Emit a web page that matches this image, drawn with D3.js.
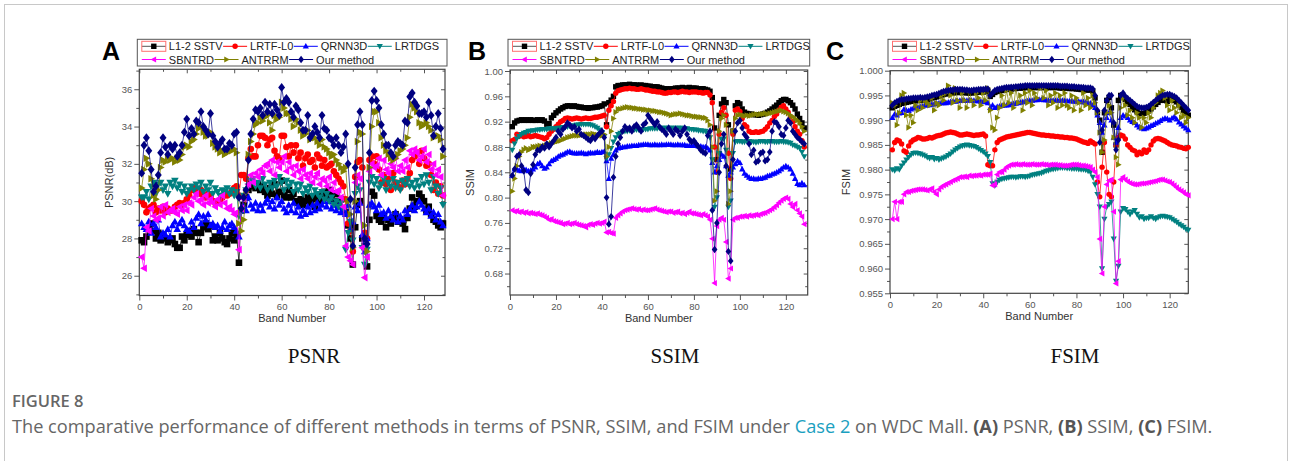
<!DOCTYPE html>
<html>
<head>
<meta charset="utf-8">
<script src="https://cdn.jsdelivr.net/npm/d3@7"></script>
<style>
  body { margin: 0; background: #fff; }
  svg { display: block; }
  .tick text { font-family: "Liberation Sans", Arial, sans-serif; fill: #555; }
  .tick line { stroke: #555; }
</style>
</head>
<body>
<svg id="fig" width="1290" height="461"></svg>
<script>
// ---- data: one value per band (1..128) ----
var methods = ["L1-2 SSTV", "LRTF-L0", "QRNN3D", "LRTDGS", "SBNTRD", "ANTRRM", "Our method"];
var bandTicks = [0, 20, 40, 60, 80, 100, 120];
var psnrTicks = [26, 28, 30, 32, 34, 36];
var ssimTicks = [0.68, 0.72, 0.76, 0.80, 0.84, 0.88, 0.92, 0.96, 1.00];
var fsimTicks = [0.955, 0.960, 0.965, 0.970, 0.975, 0.980, 0.985, 0.990, 0.995, 1.000];

var psnrSSTV = [27.9,27.8,28.1,28.5,28.8,28.4,28.0,28.3,27.9,28.2, 28.0,27.8,27.9,28.0,27.7,27.5,27.5,28.1,27.9,28.2,
  28.4,28.1,28.5,28.3,27.8,28.3,28.6,28.8,28.5,28.7, 27.9,28.1,27.9,28.3,28.0,27.8,27.7,28.0,28.3,27.9,
  28.2,26.7,29.5,29.8,30.2,30.6,31.0,30.8,30.7,30.9, 30.6,30.8,30.5,30.3,30.7,30.4,30.9,30.3,30.5,31.1,
  30.3,30.2,30.6,30.2,30.4,30.0,29.9,30.1,29.8,30.0, 30.2,29.9,30.1,29.7,30.2,30.0,30.3,30.5,30.2,30.6,
  30.3,30.0,30.4,29.8,30.1,29.6,29.4,28.7,28.0,26.6, 28.6,29.8,30.0,28.0,27.6,26.5,29.0,30.5,30.3,29.2,
  29.0,28.9,29.2,28.6,29.0,28.8,29.1,29.3,28.9,29.0, 28.8,28.5,29.1,29.6,30.2,29.7,30.0,30.4,30.2,30.0,
  29.5,29.7,29.3,29.0,28.9,28.7,28.6,28.8];
var psnrLRTF = [30.0,29.8,29.4,29.6,29.7,29.8,29.4,29.6,29.5,29.7, 29.4,29.6,29.5,29.5,29.7,29.8,29.9,29.8,29.9,30.1,
  30.3,30.6,30.7,30.5,30.4,30.6,30.3,30.2,30.4,30.2, 30.0,29.9,29.9,30.0,30.2,30.4,30.3,30.4,30.5,30.7,
  30.8,30.3,31.4,31.4,31.2,32.3,32.8,32.4,32.4,33.0, 33.5,33.5,33.4,33.0,33.3,33.4,32.7,32.4,32.3,33.5,
  33.5,32.9,32.4,33.0,32.6,33.0,32.3,32.6,31.9,32.3, 32.5,32.1,32.2,31.8,32.5,32.3,31.9,32.2,31.8,31.9,
  32.0,31.6,31.4,31.2,31.0,30.8,30.1,28.8,28.4,27.3, 31.3,32.1,32.2,31.8,28.3,28.0,32.2,32.4,32.0,32.4,
  31.7,31.0,31.4,30.9,31.2,30.6,31.5,31.0,30.8,30.7, 31.1,30.9,31.2,31.5,32.2,32.4,32.6,32.0,32.7,32.3,
  31.9,32.0,31.4,30.6,31.0,30.4,30.8,30.3];
var psnrQRNN = [28.8,28.6,28.5,28.9,28.3,28.8,28.6,29.0,28.1,28.3, 28.2,28.5,28.1,28.7,28.9,28.5,28.8,29.0,28.7,28.5,
  28.4,28.9,28.6,29.1,29.3,28.8,29.2,29.0,29.3,28.7, 28.8,28.6,28.7,28.4,28.6,28.9,28.5,28.7,28.8,28.6,
  28.4,28.1,29.5,29.7,29.5,30.2,29.8,29.6,29.9,29.5, 29.8,29.5,29.9,30.1,29.7,30.0,29.6,30.2,29.8,30.0,
  29.6,29.4,29.8,29.5,29.9,29.4,29.7,29.2,29.5,29.3, 29.7,29.4,29.8,29.5,29.9,29.6,29.8,30.0,29.7,30.0,
  29.6,29.8,29.5,29.7,29.4,29.6,29.3,29.8,28.5,28.9, 29.7,29.5,29.9,28.2,27.3,28.0,29.8,29.9,29.7,29.5,
  29.8,29.3,29.4,29.1,29.5,29.2,29.0,29.4,28.9,29.2, 29.0,29.5,29.3,29.6,29.8,29.5,29.7,30.0,29.8,29.6,
  29.4,29.6,29.2,29.4,29.0,29.3,28.9,28.7];
var psnrLRTDGS = [30.2,30.2,30.5,30.1,30.8,31.0,30.4,30.9,31.0,30.6, 30.8,30.4,31.0,30.8,31.1,30.7,30.9,30.5,30.8,30.4,
  30.6,30.8,30.6,30.9,30.7,31.0,30.5,30.8,30.6,31.0, 30.4,30.7,30.5,30.3,30.6,30.5,30.7,30.4,30.6,30.3,
  30.5,29.2,29.5,30.3,30.6,30.8,31.1,31.2,30.8,31.0, 30.7,31.2,30.9,30.6,31.0,30.7,31.1,30.8,31.3,31.0,
  30.6,31.1,30.8,31.0,30.5,30.9,30.6,30.9,30.4,30.7, 30.5,30.8,30.3,30.6,30.4,30.2,30.5,30.1,30.4,30.0,
  30.2,29.8,30.0,29.7,29.9,29.6,27.4,28.3,28.9,27.9, 30.4,30.8,30.6,27.5,26.6,27.4,31.0,31.3,30.9,31.2,
  30.7,30.9,31.2,30.6,31.0,30.8,31.2,30.7,31.0,30.6, 31.1,30.9,31.2,30.8,31.0,30.7,31.1,30.8,31.3,30.9,
  31.4,31.0,30.6,31.3,30.8,30.4,30.7,29.8];
var psnrSBNTRD = [27.0,26.4,28.6,28.4,29.6,29.2,29.0,29.1,29.7,29.2, 29.8,29.4,29.5,29.6,29.4,29.3,29.7,29.5,29.8,29.5,
  29.9,29.8,30.2,30.4,30.0,30.1,29.8,30.3,29.9,30.1, 29.9,29.7,30.1,29.8,30.3,29.9,29.6,29.7,29.5,29.3,
  29.4,27.4,29.6,30.1,30.6,30.9,31.4,31.0,31.5,31.3, 31.7,31.5,31.9,32.0,31.6,32.2,31.4,32.1,31.8,32.1,
  32.4,31.6,32.1,31.8,31.4,31.9,31.6,31.2,31.7,31.4, 31.2,31.5,31.0,31.3,31.5,30.9,31.2,31.1,30.8,31.3,
  30.6,31.0,30.5,30.6,30.2,29.7,27.6,27.0,26.8,26.6, 31.0,31.4,31.2,27.5,25.9,27.0,31.6,32.0,31.8,31.9,
  32.3,31.4,32.2,31.7,31.5,32.0,31.8,32.4,31.6,31.9, 31.6,32.2,31.8,32.7,32.5,32.8,32.6,32.2,32.4,32.8,
  32.1,32.5,31.7,32.0,31.4,31.7,31.3,30.3];
var psnrANTRRM = [30.7,31.7,32.3,32.0,31.2,30.3,30.1,30.6,31.8,32.2, 32.1,32.3,32.2,32.3,32.1,32.3,32.2,32.5,32.9,33.0,
  32.9,33.2,33.3,33.6,33.9,34.0,33.7,33.5,33.5,33.7, 33.1,32.9,32.8,32.6,32.7,32.5,32.6,32.7,32.7,32.8,
  32.6,28.8,28.4,29.0,30.5,32.5,33.2,33.6,34.1,34.2, 34.5,34.3,34.5,34.6,34.2,33.8,34.6,34.4,34.5,35.3,
  35.0,34.7,34.7,34.4,34.0,34.4,34.2,33.8,33.5,33.6, 33.8,33.3,33.4,33.4,33.2,33.0,33.3,32.9,32.8,32.6,
  32.4,32.5,32.2,32.0,31.8,31.6,31.8,30.0,29.3,27.5, 30.0,33.2,33.7,33.6,28.7,27.3,31.8,34.0,34.8,34.8,
  34.2,33.4,33.0,32.7,32.5,32.3,32.2,32.3,32.5,32.7, 32.8,33.0,33.4,34.5,35.2,35.0,34.8,34.2,34.0,34.1,
  34.2,34.0,33.8,33.4,33.5,33.5,33.3,32.4];
var psnrOurs = [31.5,33.0,33.4,32.7,31.7,30.5,30.8,31.4,32.6,33.4, 32.9,32.5,33.0,32.8,33.0,32.4,32.6,33.0,33.7,34.4,
  33.5,33.9,33.6,34.3,34.2,34.8,34.0,33.8,33.6,34.7, 33.5,33.2,32.9,33.1,33.3,32.8,32.8,33.1,33.0,33.6,
  33.7,30.2,29.6,30.2,30.6,32.2,33.6,34.4,34.9,34.8, 35.0,34.6,35.3,34.8,35.2,34.7,35.2,34.9,34.6,36.1,
  35.3,35.5,35.3,34.8,34.5,35.1,34.9,34.2,33.8,33.8, 34.6,33.4,33.6,34.0,33.7,33.4,34.6,33.9,33.8,33.4,
  33.3,33.0,33.4,33.0,32.6,32.9,33.6,32.0,30.1,27.6, 31.8,34.1,34.8,34.1,28.0,27.7,32.6,35.4,35.9,35.4,
  35.0,34.1,33.6,33.0,33.0,32.6,32.4,33.0,33.2,33.1, 33.0,34.3,34.2,35.6,35.8,35.3,35.1,34.7,34.7,34.8,
  34.5,35.3,34.6,33.5,34.0,34.7,33.9,32.8];

var ssimSSTV = [.912,.918,.921,.922,.923,.922,.923,.922,.923,.922, .922,.923,.922,.923,.921,.916,.917,.926,.930,.934,
  .937,.940,.942,.944,.945,.945,.944,.945,.944,.943, .943,.942,.942,.941,.942,.942,.943,.943,.944,.945,
  .948,.915,.950,.954,.960,.975,.977,.977,.978,.978, .978,.979,.978,.978,.978,.977,.978,.977,.977,.976,
  .976,.975,.975,.975,.974,.973,.972,.972,.971,.972, .972,.973,.973,.973,.974,.973,.973,.974,.973,.973,
  .973,.972,.972,.972,.971,.970,.968,.958,.910,.860, .930,.948,.955,.950,.915,.845,.905,.945,.950,.948,
  .940,.935,.933,.932,.932,.931,.931,.930,.931,.932, .933,.935,.937,.940,.943,.946,.950,.953,.955,.955,
  .953,.950,.946,.940,.932,.925,.918,.910];
var ssimLRTF = [.890,.892,.900,.897,.898,.896,.897,.898,.896,.897, .898,.897,.896,.895,.893,.895,.900,.905,.908,.912,
  .916,.920,.922,.925,.926,.925,.924,.925,.926,.925, .924,.925,.926,.925,.925,.926,.927,.927,.928,.929,
  .930,.912,.938,.945,.952,.965,.969,.970,.971,.972, .972,.973,.972,.972,.971,.971,.972,.971,.970,.970,
  .969,.968,.968,.967,.967,.966,.965,.965,.966,.966, .967,.967,.966,.967,.968,.967,.967,.966,.967,.967,
  .967,.966,.966,.965,.966,.966,.962,.950,.880,.840, .900,.935,.942,.930,.870,.830,.900,.938,.940,.936,
  .925,.915,.912,.905,.903,.903,.904,.903,.904,.905, .908,.912,.918,.922,.928,.932,.938,.943,.945,.940,
  .935,.928,.920,.912,.905,.900,.890,.880];
var ssimQRNN = [.835,.845,.845,.843,.842,.845,.844,.842,.843,.845, .848,.853,.855,.850,.846,.848,.853,.858,.860,.862,
  .865,.867,.868,.870,.872,.873,.871,.870,.870,.870, .871,.870,.869,.870,.871,.870,.871,.872,.871,.872,
  .873,.858,.830,.862,.868,.875,.878,.879,.880,.880, .881,.881,.882,.882,.882,.883,.883,.884,.884,.884,
  .883,.883,.884,.883,.883,.884,.883,.884,.884,.884, .883,.883,.884,.883,.883,.883,.882,.882,.882,.882,
  .882,.881,.881,.880,.880,.878,.875,.855,.840,.850, .860,.868,.865,.850,.835,.840,.848,.853,.858,.855,
  .845,.838,.835,.832,.830,.830,.829,.830,.830,.831, .832,.834,.835,.837,.838,.840,.842,.845,.848,.850,
  .848,.845,.838,.830,.822,.820,.823,.820];
var ssimLRTDGS = [.875,.885,.893,.897,.900,.902,.903,.905,.905,.906, .906,.907,.907,.908,.908,.908,.909,.909,.909,.909,
  .910,.910,.911,.911,.912,.913,.913,.914,.915,.915, .916,.916,.916,.916,.915,.914,.912,.910,.907,.903,
  .897,.862,.868,.878,.888,.895,.900,.902,.904,.905, .905,.906,.906,.907,.907,.907,.908,.908,.908,.908,
  .909,.909,.909,.909,.910,.910,.910,.910,.910,.910, .910,.910,.910,.910,.910,.909,.909,.908,.908,.907,
  .907,.906,.906,.905,.905,.902,.895,.860,.785,.800, .870,.892,.893,.875,.785,.795,.870,.888,.889,.889,
  .888,.888,.889,.889,.888,.888,.887,.888,.889,.889, .888,.888,.889,.889,.888,.888,.888,.889,.888,.888,
  .887,.886,.883,.882,.880,.878,.872,.865];
var ssimSBNTRD = [.780,.778,.779,.777,.778,.776,.777,.775,.776,.775, .774,.775,.773,.772,.770,.768,.765,.766,.763,.762,
  .761,.760,.758,.759,.760,.758,.759,.760,.758,.757, .756,.755,.753,.757,.758,.757,.759,.760,.759,.760,
  .762,.745,.746,.744,.743,.768,.772,.775,.778,.780, .781,.782,.783,.782,.781,.782,.780,.781,.780,.780,
  .781,.782,.783,.781,.780,.779,.778,.777,.778,.778, .776,.777,.778,.775,.776,.774,.776,.778,.775,.775,
  .774,.773,.772,.774,.772,.770,.765,.735,.665,.755, .765,.768,.765,.730,.672,.688,.765,.768,.768,.770,
  .770,.771,.770,.772,.771,.772,.773,.772,.774,.775, .776,.778,.780,.782,.785,.788,.792,.795,.798,.800,
  .798,.790,.785,.790,.780,.775,.770,.758];
var ssimANTRRM = [.810,.830,.850,.865,.872,.876,.878,.875,.877,.880, .880,.881,.882,.881,.882,.883,.885,.886,.887,.888,
  .889,.890,.892,.893,.895,.896,.897,.898,.898,.898, .899,.899,.900,.900,.900,.901,.900,.899,.898,.898,
  .900,.865,.880,.905,.925,.935,.940,.940,.941,.942, .943,.942,.942,.941,.941,.940,.940,.939,.939,.938,
  .938,.937,.937,.936,.935,.935,.934,.933,.932,.930, .931,.932,.932,.933,.932,.931,.930,.930,.929,.928,
  .928,.927,.927,.926,.926,.922,.915,.880,.795,.810, .905,.925,.930,.915,.790,.810,.905,.925,.930,.931,
  .930,.929,.930,.929,.930,.931,.932,.931,.932,.932, .933,.932,.933,.934,.935,.936,.937,.938,.936,.935,
  .933,.930,.928,.925,.922,.918,.912,.905];
var ssimOurs = [.835,.845,.865,.868,.850,.842,.812,.808,.838,.852, .868,.875,.875,.880,.878,.885,.880,.885,.890,.895,
  .905,.900,.908,.912,.918,.915,.910,.912,.905,.908, .900,.898,.895,.892,.890,.895,.893,.898,.902,.905,
  .895,.800,.758,.770,.832,.865,.885,.895,.905,.912, .908,.910,.905,.912,.915,.910,.905,.915,.918,.930,
  .925,.920,.915,.920,.912,.908,.905,.900,.910,.905, .900,.908,.905,.898,.905,.910,.900,.892,.888,.890,
  .885,.880,.875,.872,.870,.898,.905,.780,.718,.760, .840,.885,.900,.850,.715,.700,.860,.905,.918,.922,
  .910,.900,.895,.885,.868,.875,.856,.858,.870,.872, .858,.860,.872,.905,.920,.918,.912,.900,.898,.910,
  .922,.918,.905,.900,.895,.892,.888,.885];

var fsimSSTV = [.9925,.9928,.9930,.9932,.9934,.9935,.9936,.9937,.9938,.9939, .9939,.9940,.9940,.9940,.9941,.9942,.9943,.9945,.9946,.9947,
  .9949,.9951,.9952,.9953,.9954,.9955,.9955,.9956,.9956,.9956, .9956,.9956,.9955,.9955,.9955,.9956,.9956,.9957,.9957,.9957,
  .9958,.9958,.9948,.9952,.9956,.9958,.9959,.9960,.9961,.9962, .9963,.9963,.9964,.9964,.9965,.9965,.9965,.9966,.9966,.9966,
  .9966,.9966,.9966,.9966,.9966,.9966,.9966,.9966,.9966,.9966, .9966,.9966,.9965,.9965,.9965,.9965,.9964,.9964,.9964,.9963,
  .9963,.9962,.9962,.9961,.9961,.9961,.9959,.9945,.9915,.9900, .9835,.9915,.9940,.9946,.9925,.9890,.9850,.9940,.9950,.9947,
  .9942,.9937,.9932,.9926,.9921,.9917,.9914,.9913,.9914,.9916, .9919,.9923,.9927,.9932,.9936,.9940,.9943,.9940,.9938,.9944,
  .9942,.9940,.9937,.9932,.9926,.9920,.9915,.9910];
var fsimLRTF = [.9840,.9855,.9860,.9858,.9852,.9838,.9835,.9848,.9856,.9860, .9862,.9865,.9864,.9862,.9862,.9863,.9865,.9864,.9866,.9868,
  .9869,.9870,.9872,.9874,.9875,.9876,.9875,.9874,.9872,.9870, .9870,.9871,.9872,.9871,.9870,.9869,.9870,.9870,.9871,.9872,
  .9868,.9810,.9808,.9808,.9840,.9855,.9860,.9862,.9864,.9866, .9867,.9868,.9869,.9870,.9871,.9872,.9873,.9874,.9875,.9875,
  .9874,.9873,.9872,.9871,.9870,.9870,.9869,.9869,.9868,.9868, .9867,.9867,.9866,.9866,.9865,.9865,.9864,.9864,.9863,.9862,
  .9860,.9858,.9856,.9855,.9853,.9858,.9855,.9852,.9775,.9745, .9805,.9855,.9795,.9750,.9745,.9775,.9850,.9865,.9870,.9868,
  .9862,.9850,.9845,.9840,.9838,.9830,.9835,.9832,.9840,.9835, .9840,.9850,.9858,.9862,.9863,.9862,.9860,.9858,.9855,.9852,
  .9850,.9849,.9848,.9846,.9845,.9843,.9842,.9845];
var fsimQRNN = [.9905,.9912,.9910,.9914,.9915,.9922,.9920,.9919,.9922,.9924, .9925,.9926,.9927,.9928,.9930,.9930,.9931,.9932,.9933,.9934,
  .9934,.9935,.9935,.9935,.9936,.9937,.9938,.9938,.9939,.9940, .9940,.9940,.9940,.9941,.9940,.9940,.9939,.9939,.9938,.9938,
  .9937,.9935,.9925,.9930,.9925,.9927,.9928,.9929,.9930,.9930, .9931,.9932,.9933,.9934,.9935,.9936,.9937,.9938,.9939,.9940,
  .9940,.9941,.9941,.9942,.9942,.9941,.9941,.9940,.9940,.9940, .9940,.9940,.9940,.9940,.9940,.9939,.9939,.9939,.9938,.9938,
  .9938,.9937,.9937,.9936,.9935,.9934,.9930,.9925,.9910,.9895, .9875,.9890,.9905,.9915,.9900,.9865,.9855,.9885,.9905,.9910,
  .9908,.9905,.9900,.9897,.9895,.9890,.9886,.9884,.9882,.9884, .9886,.9889,.9891,.9894,.9896,.9899,.9902,.9904,.9903,.9900,
  .9904,.9907,.9902,.9896,.9892,.9888,.9884,.9880];
var fsimLRTDGS = [.9800,.9798,.9802,.9800,.9808,.9814,.9820,.9825,.9830,.9833, .9834,.9833,.9832,.9830,.9828,.9825,.9823,.9825,.9821,.9823,
  .9820,.9822,.9824,.9826,.9829,.9832,.9836,.9840,.9843,.9846, .9848,.9849,.9850,.9849,.9848,.9847,.9845,.9842,.9839,.9836,
  .9832,.9827,.9815,.9772,.9768,.9775,.9779,.9781,.9782,.9783, .9784,.9785,.9785,.9784,.9785,.9786,.9786,.9785,.9786,.9787,
  .9789,.9790,.9791,.9792,.9793,.9795,.9797,.9798,.9800,.9801, .9802,.9803,.9804,.9804,.9804,.9803,.9803,.9802,.9802,.9802,
  .9801,.9800,.9800,.9799,.9797,.9795,.9785,.9770,.9750,.9725, .9600,.9700,.9725,.9730,.9735,.9660,.9575,.9605,.9715,.9722,
  .9720,.9715,.9710,.9715,.9718,.9710,.9703,.9705,.9700,.9702, .9702,.9705,.9702,.9700,.9703,.9705,.9706,.9705,.9704,.9703,
  .9700,.9697,.9694,.9690,.9687,.9684,.9680,.9678];
var fsimSBNTRD = [.9700,.9735,.9700,.9735,.9735,.9750,.9755,.9755,.9757,.9758, .9759,.9760,.9760,.9760,.9759,.9758,.9760,.9762,.9755,.9750,
  .9760,.9765,.9768,.9770,.9773,.9775,.9778,.9780,.9782,.9785, .9785,.9786,.9785,.9788,.9787,.9788,.9788,.9789,.9788,.9790,
  .9790,.9790,.9792,.9768,.9770,.9790,.9795,.9795,.9800,.9805, .9808,.9810,.9810,.9811,.9810,.9810,.9811,.9810,.9810,.9810,
  .9811,.9810,.9810,.9810,.9811,.9810,.9810,.9809,.9810,.9810, .9810,.9809,.9809,.9808,.9808,.9808,.9809,.9810,.9810,.9810,
  .9809,.9808,.9808,.9807,.9806,.9805,.9800,.9795,.9785,.9660, .9590,.9725,.9770,.9778,.9780,.9715,.9570,.9615,.9780,.9785,
  .9780,.9776,.9773,.9771,.9770,.9770,.9771,.9772,.9772,.9773, .9774,.9775,.9776,.9777,.9779,.9780,.9780,.9778,.9776,.9775,
  .9772,.9768,.9764,.9760,.9757,.9754,.9750,.9748];
var fsimANTRRM = [.9935,.9930,.9890,.9915,.9950,.9955,.9910,.9885,.9910,.9895, .9930,.9920,.9940,.9925,.9940,.9935,.9930,.9945,.9920,.9935,
  .9930,.9950,.9940,.9955,.9970,.9950,.9935,.9965,.9940,.9925, .9955,.9940,.9925,.9960,.9940,.9930,.9955,.9945,.9930,.9955,
  .9940,.9965,.9920,.9885,.9880,.9905,.9925,.9950,.9930,.9960, .9935,.9955,.9925,.9965,.9935,.9950,.9920,.9955,.9935,.9960,
  .9930,.9955,.9945,.9970,.9965,.9945,.9960,.9930,.9950,.9935, .9955,.9925,.9950,.9930,.9955,.9930,.9925,.9950,.9920,.9945,
  .9935,.9920,.9955,.9930,.9945,.9925,.9950,.9935,.9915,.9875, .9835,.9860,.9915,.9930,.9915,.9865,.9825,.9810,.9925,.9945,
  .9930,.9910,.9920,.9905,.9895,.9915,.9905,.9885,.9905,.9895, .9915,.9905,.9925,.9935,.9950,.9955,.9960,.9945,.9930,.9920,
  .9940,.9925,.9915,.9930,.9905,.9910,.9895,.9905];
var fsimOurs = [.9930,.9935,.9938,.9940,.9942,.9942,.9943,.9944,.9944,.9945, .9945,.9945,.9946,.9945,.9946,.9947,.9948,.9950,.9951,.9952,
  .9954,.9956,.9958,.9959,.9960,.9961,.9961,.9962,.9962,.9962, .9962,.9961,.9961,.9960,.9960,.9961,.9961,.9962,.9962,.9962,
  .9963,.9963,.9950,.9955,.9960,.9962,.9963,.9964,.9965,.9966, .9966,.9967,.9967,.9968,.9968,.9969,.9969,.9970,.9970,.9970,
  .9970,.9970,.9970,.9970,.9970,.9970,.9970,.9970,.9970,.9970, .9970,.9970,.9969,.9969,.9969,.9969,.9968,.9968,.9968,.9967,
  .9967,.9966,.9966,.9965,.9965,.9965,.9963,.9950,.9920,.9855, .9880,.9920,.9940,.9950,.9950,.9895,.9840,.9860,.9950,.9955,
  .9948,.9944,.9940,.9936,.9932,.9928,.9926,.9925,.9925,.9926, .9928,.9932,.9936,.9940,.9944,.9947,.9950,.9951,.9952,.9952,
  .9950,.9948,.9945,.9940,.9935,.9930,.9925,.9920];

var colors = ["#000000", "#ff0000", "#0000ff", "#008080", "#ff00ff", "#808000", "#000080"];
var shapes = ["square", "circle", "up", "down", "left", "right", "diamond"];

var panels = [
  { letter: "A", yTitle: "PSNR(dB)", name: "PSNR", series: [psnrSSTV, psnrLRTF, psnrQRNN, psnrLRTDGS, psnrSBNTRD, psnrANTRRM, psnrOurs],
    left: 139.3, right: 445, top: 69.3, bottom: 295.5, xMax: 128.85, yDom: [24.94, 37.07], yTicks: psnrTicks,
    fmt: d3.format("d"), r: 3.3, letterX: 102, nameX: 314, titleGap: 26 },
  { letter: "B", yTitle: "SSIM", name: "SSIM", series: [ssimSSTV, ssimLRTF, ssimQRNN, ssimLRTDGS, ssimSBNTRD, ssimANTRRM, ssimOurs],
    left: 510, right: 807.7, top: 70, bottom: 295, xMax: 129.5, yDom: [0.6461, 1.0016], yTicks: ssimTicks,
    fmt: d3.format(".2f"), r: 2.7, letterX: 468, nameX: 675, titleGap: 36 },
  { letter: "C", yTitle: "FSIM", name: "FSIM", series: [fsimSSTV, fsimLRTF, fsimQRNN, fsimLRTDGS, fsimSBNTRD, fsimANTRRM, fsimOurs],
    left: 890, right: 1188.3, top: 70.7, bottom: 293.3, xMax: 128, yDom: [0.955, 1.0], yTicks: fsimTicks,
    fmt: d3.format(".3f"), r: 2.7, letterX: 826, nameX: 1075, titleGap: 40 }
];

var font = '"Liberation Sans", Arial, sans-serif';
var svg = d3.select("#fig");

svg.append("rect").attr("width", 1290).attr("height", 461).attr("fill", "#fff");
svg.append("rect").attr("x", 4.5).attr("y", 4.5).attr("width", 1283).attr("height", 480)
  .attr("fill", "none").attr("stroke", "#c8c8c8").attr("stroke-width", 1);

function markerPath(type, r) {
  switch (type) {
    case "square": return "M" + (-r) + "," + (-r) + "h" + 2 * r + "v" + 2 * r + "h" + (-2 * r) + "Z";
    case "circle": return "M" + r + ",0A" + r + "," + r + " 0 1,1 " + (-r) + ",0A" + r + "," + r + " 0 1,1 " + r + ",0Z";
    case "up": return "M0," + (-1.2 * r) + "L" + 1.15 * r + "," + 0.85 * r + "L" + (-1.15 * r) + "," + 0.85 * r + "Z";
    case "down": return "M0," + 1.2 * r + "L" + 1.15 * r + "," + (-0.85 * r) + "L" + (-1.15 * r) + "," + (-0.85 * r) + "Z";
    case "left": return "M" + (-1.2 * r) + ",0L" + 0.85 * r + "," + (-1.15 * r) + "L" + 0.85 * r + "," + 1.15 * r + "Z";
    case "right": return "M" + 1.2 * r + ",0L" + (-0.85 * r) + "," + (-1.15 * r) + "L" + (-0.85 * r) + "," + 1.15 * r + "Z";
    default: return "M0," + (-1.35 * r) + "L" + 1.05 * r + ",0L0," + 1.35 * r + "L" + (-1.05 * r) + ",0Z";
  }
}

function midpoints(t) {
  var m = [];
  for (var i = 0; i < t.length - 1; i++) m.push((t[i] + t[i + 1]) / 2);
  m.push(t[t.length - 1] + (t[1] - t[0]) / 2);
  m.unshift(t[0] - (t[1] - t[0]) / 2);
  return m;
}

panels.forEach(function(p) {
  var x = d3.scaleLinear().domain([0, p.xMax]).range([p.left, p.right]);
  var y = d3.scaleLinear().domain(p.yDom).range([p.bottom, p.top]);
  var g = svg.append("g");
  var inX = function(v) { return v >= 0 && v <= p.xMax; };
  var inY = function(v) { return v >= p.yDom[0] && v <= p.yDom[1]; };
  var xMinor = midpoints(bandTicks).filter(inX);
  var yMinor = midpoints(p.yTicks).filter(inY);

  // axes
  function clean(sel) { sel.select(".domain").remove(); }
  g.append("g").attr("transform", "translate(0," + p.bottom + ")")
    .call(d3.axisBottom(x).tickValues(bandTicks).tickSize(5).tickPadding(3).tickFormat(d3.format("d"))).call(clean)
    .selectAll("text").style("font-size", "9.5px");
  g.append("g").attr("transform", "translate(0," + p.bottom + ")")
    .call(d3.axisBottom(x).tickValues(xMinor).tickSize(3).tickFormat("")).call(clean);
  g.append("g").attr("transform", "translate(0," + p.top + ")")
    .call(d3.axisBottom(x).tickValues(bandTicks).tickSize(4).tickFormat("")).call(clean);
  g.append("g").attr("transform", "translate(0," + p.top + ")")
    .call(d3.axisBottom(x).tickValues(xMinor).tickSize(2.5).tickFormat("")).call(clean);
  g.append("g").attr("transform", "translate(" + p.left + ",0)")
    .call(d3.axisLeft(y).tickValues(p.yTicks).tickSize(5).tickPadding(2).tickFormat(p.fmt)).call(clean)
    .selectAll("text").style("font-size", "9.5px");
  g.append("g").attr("transform", "translate(" + p.left + ",0)")
    .call(d3.axisLeft(y).tickValues(yMinor).tickSize(3).tickFormat("")).call(clean);
  g.append("g").attr("transform", "translate(" + p.right + ",0)")
    .call(d3.axisLeft(y).tickValues(p.yTicks).tickSize(4).tickFormat("")).call(clean);
  g.append("g").attr("transform", "translate(" + p.right + ",0)")
    .call(d3.axisLeft(y).tickValues(yMinor).tickSize(2.5).tickFormat("")).call(clean);

  g.append("rect").attr("x", p.left).attr("y", p.top)
    .attr("width", p.right - p.left).attr("height", p.bottom - p.top)
    .attr("fill", "none").attr("stroke", "#444").attr("stroke-width", 1.2);

  // series
  var line = d3.line().x(function(d, i) { return x(i + 1); }).y(function(d) { return y(d); });
  p.series.forEach(function(vals, k) {
    var sg = g.append("g");
    sg.append("path").datum(vals).attr("d", line)
      .attr("fill", "none").attr("stroke", colors[k]).attr("stroke-width", 1).attr("stroke-opacity", 0.75);
    sg.selectAll("path.m").data(vals).enter().append("path").attr("class", "m")
      .attr("transform", function(d, i) { return "translate(" + x(i + 1) + "," + y(d) + ")"; })
      .attr("d", markerPath(shapes[k], p.r))
      .attr("fill", colors[k]);
  });

  // axis titles
  g.append("text").attr("transform", "translate(" + (p.left - p.titleGap) + "," + ((p.top + p.bottom) / 2) + ") rotate(-90)")
    .attr("text-anchor", "middle").attr("font-family", font).attr("font-size", 11).attr("fill", "#333")
    .text(p.yTitle);
  g.append("text").attr("x", (p.left + p.right) / 2).attr("y", p.bottom + 26.5)
    .attr("text-anchor", "middle").attr("font-family", font).attr("font-size", 11).attr("fill", "#333")
    .text("Band Number");

  // panel letter
  g.append("text").attr("x", p.letterX).attr("y", 60).attr("font-family", font)
    .attr("font-size", 25).attr("font-weight", "bold").attr("fill", "#000").text(p.letter);

  // legend
  var bx = p.left - 2, bw = p.right - p.left + 4;
  var lg = g.append("g");
  lg.append("rect").attr("x", bx).attr("y", 39.3).attr("width", bw).attr("height", 26.7)
    .attr("fill", "#fff").attr("stroke", "#555").attr("stroke-width", 1);
  var rows = [[0, 1, 2, 3], [4, 5, 6]];
  rows.forEach(function(row, ri) {
    var cy = ri === 0 ? 46.3 : 59.5;
    var cx = bx + 4.5;
    row.forEach(function(k) {
      lg.append("line").attr("x1", cx).attr("x2", cx + 24).attr("y1", cy).attr("y2", cy)
        .attr("stroke", k === 0 ? "#555" : colors[k]).attr("stroke-width", 1);
      lg.append("path").attr("transform", "translate(" + (cx + 12) + "," + cy + ")")
        .attr("d", markerPath(shapes[k], 2.7)).attr("fill", colors[k]);
      if (k === 0) {
        lg.append("rect").attr("x", cx).attr("y", cy - 5).attr("width", 24).attr("height", 10)
          .attr("fill", "none").attr("stroke", "#ff7070").attr("stroke-width", 1);
      }
      var t = lg.append("text").attr("x", cx + 27).attr("y", cy + 4)
        .attr("font-family", font).attr("font-size", 11).attr("fill", "#222").text(methods[k]);
      cx = cx + 27 + t.node().getComputedTextLength() + 0.5;
    });
  });

  // metric name under the panel
  svg.append("text").attr("x", p.nameX).attr("y", 363).attr("text-anchor", "middle")
    .attr("font-family", '"Liberation Serif", "Times New Roman", serif').attr("font-size", 21)
    .attr("fill", "#111").text(p.name);
});

// caption
var capFont = '"Open Sans", "Noto Sans", sans-serif';
svg.append("text").attr("x", 12).attr("y", 407).attr("font-family", capFont)
  .attr("font-size", 16.5).attr("font-weight", 600).attr("fill", "#666").text("FIGURE 8");

var cap = svg.append("text").attr("x", 12).attr("y", 433).attr("font-family", capFont)
  .attr("font-size", 16).attr("fill", "#666");
var parts = [
  ["The comparative performance of different methods in terms of PSNR, SSIM, and FSIM under ", "normal", "#666"],
  ["Case 2", "normal", "#1aa0c0"],
  [" on WDC Mall. ", "normal", "#666"],
  ["(A)", "bold", "#555"], [" PSNR, ", "normal", "#666"],
  ["(B)", "bold", "#555"], [" SSIM, ", "normal", "#666"],
  ["(C)", "bold", "#555"], [" FSIM.", "normal", "#666"]
];
parts.forEach(function(s) {
  cap.append("tspan").attr("font-weight", s[1]).attr("fill", s[2]).text(s[0]);
});
// fit the caption so it ends where the reference's does
var w = cap.node().getComputedTextLength();
cap.attr("font-size", 16 * (1213 - 12) / w);
</script>
</body>
</html>
